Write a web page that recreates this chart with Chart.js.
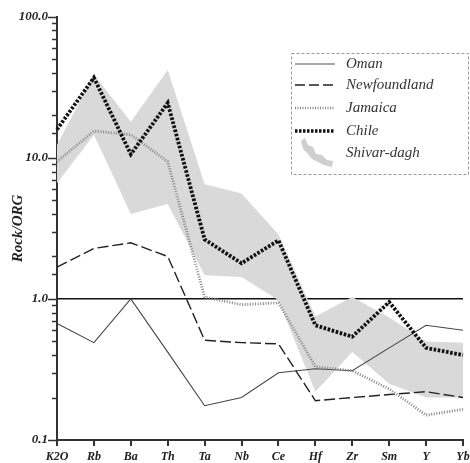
<!DOCTYPE html>
<html>
<head>
<meta charset="utf-8">
<script src="https://cdn.jsdelivr.net/npm/chart.js@4"></script>
<style>
  html, body { margin: 0; padding: 0; background: #fff; }
  #wrap { width: 470px; height: 463px; }
</style>
</head>
<body>
<div id="wrap"><canvas id="spider" width="470" height="463"></canvas></div>
<script>
// element order on the x axis
var elements = ['K2O', 'Rb', 'Ba', 'Th', 'Ta', 'Nb', 'Ce', 'Hf', 'Zr', 'Sm', 'Y', 'Yb'];

// rock / ORG ratios
var oman         = [0.67, 0.49, 1.0, 0.42, 0.175, 0.20, 0.30, 0.32, 0.31, 0.45, 0.65, 0.60];
var newfoundland = [1.68, 2.28, 2.5, 2.0, 0.51, 0.49, 0.48, 0.19, 0.20, 0.21, 0.22, 0.20];
var jamaica      = [9.4, 15.5, 14.6, 9.4, 1.03, 0.91, 0.94, 0.33, 0.31, 0.23, 0.15, 0.165];
var chile        = [15.9, 37, 10.6, 24.5, 2.64, 1.79, 2.6, 0.65, 0.54, 0.95, 0.45, 0.40];

// Shivar-dagh field (upper and lower envelope)
var shivarUpper  = [12.4, 39, 18, 42, 6.5, 5.6, 2.86, 0.75, 1.03, 0.74, 0.50, 0.49];
var shivarLower  = [6.6, 14.6, 4.0, 4.7, 1.47, 1.43, 0.98, 0.22, 0.42, 0.25, 0.20, 0.20];

var yTicks = [0.1, 1, 10, 100];

var serif = "'Liberation Serif', 'DejaVu Serif', serif";

// tick marks: long at decades, short in between
const tickMarks = {
  id: 'tickMarks',
  afterDraw(chart) {
    const ctx = chart.ctx;
    const x = chart.scales.x, y = chart.scales.y;
    ctx.save();
    ctx.strokeStyle = '#333';
    ctx.lineWidth = 1.5;
    y.ticks.forEach(function(t) {
      var py = Math.round(y.getPixelForValue(t.value)) + 0.5;
      var len = yTicks.indexOf(t.value) >= 0 ? 9 : 5;
      ctx.beginPath();
      ctx.moveTo(y.right - len, py);
      ctx.lineTo(y.right, py);
      ctx.stroke();
    });
    ctx.lineWidth = 2;
    elements.forEach(function(e, i) {
      var px = Math.round(x.getPixelForValue(i));
      ctx.beginPath();
      ctx.moveTo(px, x.top);
      ctx.lineTo(px, x.top + 6);
      ctx.stroke();
    });
    ctx.restore();
  }
};

// legend box in the upper right
const boxLegend = {
  id: 'boxLegend',
  afterDraw(chart) {
    const ctx = chart.ctx;
    ctx.save();
    ctx.strokeStyle = '#999';
    ctx.lineWidth = 1;
    ctx.setLineDash([3, 2]);
    ctx.strokeRect(291.5, 53.5, 177, 121);

    var rows = [
      { label: 'Oman', y: 64, color: '#555', width: 1.2, dash: [] },
      { label: 'Newfoundland', y: 85, color: '#222', width: 1.6, dash: [10, 4] },
      { label: 'Jamaica', y: 108, color: '#888', width: 2.6, dash: [1, 1.5] },
      { label: 'Chile', y: 131, color: '#111', width: 3.5, dash: [2.5, 1.5] },
      { label: 'Shivar-dagh', y: 153 }
    ];
    rows.forEach(function(r) {
      if (r.color) {
        ctx.beginPath();
        ctx.setLineDash(r.dash);
        ctx.strokeStyle = r.color;
        ctx.lineWidth = r.width;
        ctx.moveTo(295, r.y);
        ctx.lineTo(335, r.y);
        ctx.stroke();
      } else {
        // little grey squiggle standing for the field
        ctx.setLineDash([]);
        ctx.fillStyle = '#cfcfcf';
        ctx.beginPath();
        ctx.moveTo(301, 141);
        ctx.lineTo(305, 138);
        ctx.lineTo(308, 145);
        ctx.lineTo(313, 147);
        ctx.lineTo(316, 154);
        ctx.lineTo(322, 155);
        ctx.lineTo(327, 160);
        ctx.lineTo(333, 161);
        ctx.lineTo(332, 167);
        ctx.lineTo(324, 165);
        ctx.lineTo(318, 162);
        ctx.lineTo(312, 159);
        ctx.lineTo(308, 154);
        ctx.lineTo(304, 150);
        ctx.lineTo(302, 146);
        ctx.closePath();
        ctx.fill();
      }
      ctx.fillStyle = '#333';
      ctx.font = 'italic 15px ' + serif;
      ctx.textBaseline = 'middle';
      ctx.textAlign = 'left';
      ctx.fillText(r.label, 346, r.y);
    });
    ctx.restore();
  }
};

const ctx = document.getElementById('spider').getContext('2d');

const spiderChart = new Chart(ctx, {
  type: 'line',
  data: {
    labels: elements,
    datasets: [
      {
        label: 'Shivar-dagh upper',
        data: shivarUpper,
        borderWidth: 0,
        pointRadius: 0,
        backgroundColor: '#d9d9d9',
        fill: '+1',
        order: 10
      },
      {
        label: 'Shivar-dagh lower',
        data: shivarLower,
        borderWidth: 0,
        pointRadius: 0,
        fill: false,
        order: 11
      },
      {
        label: 'Oman',
        data: oman,
        borderColor: '#444',
        borderWidth: 1.1,
        pointRadius: 0,
        fill: false,
        order: 3
      },
      {
        label: 'Newfoundland',
        data: newfoundland,
        borderColor: '#222',
        borderWidth: 1.4,
        borderDash: [11, 4],
        pointRadius: 0,
        fill: false,
        order: 2
      },
      {
        label: 'Jamaica',
        data: jamaica,
        borderColor: '#858585',
        borderWidth: 2.8,
        borderDash: [1, 1.6],
        pointRadius: 0,
        fill: false,
        order: 1
      },
      {
        label: 'Chile',
        data: chile,
        borderColor: '#111',
        borderWidth: 3.8,
        borderDash: [2.6, 1.6],
        pointRadius: 0,
        fill: false,
        order: 0
      }
    ]
  },
  options: {
    responsive: false,
    animation: false,
    devicePixelRatio: 1,
    layout: { padding: { top: 13, right: 7, left: 0, bottom: 0 } },
    plugins: {
      legend: { display: false },
      tooltip: { enabled: false }
    },
    scales: {
      x: {
        type: 'category',
        offset: false,
        grid: { display: false, drawTicks: false },
        border: { color: '#333', width: 2 },
        ticks: {
          autoSkip: false,
          maxRotation: 0,
          padding: 10,
          color: '#222',
          font: { family: serif, size: 12, style: 'italic', weight: 'bold' }
        },
        afterFit: function(s) {
          s.height = 23;
          s.paddingLeft = 0;
          s.paddingRight = 0;
        }
      },
      y: {
        type: 'logarithmic',
        min: 0.1,
        max: 100,
        border: { color: '#333', width: 2 },
        grid: {
          drawTicks: false,
          lineWidth: 1.5,
          color: function(c) {
            return c.tick && c.tick.value === 1 ? '#111' : 'rgba(0,0,0,0)';
          }
        },
        ticks: {
          autoSkip: false,
          padding: 9,
          color: '#222',
          font: { family: serif, size: 13, style: 'italic', weight: 'bold' },
          callback: function(v) {
            return yTicks.indexOf(v) >= 0 ? Number(v).toFixed(1) : '';
          }
        },
        title: {
          display: true,
          text: 'Rock/ORG',
          color: '#222',
          padding: { top: 9, bottom: 0 },
          font: { family: serif, size: 15, style: 'italic', weight: 'bold' }
        },
        afterFit: function(s) {
          s.width = 57;
        }
      }
    }
  },
  plugins: [tickMarks, boxLegend]
});
</script>
</body>
</html>
